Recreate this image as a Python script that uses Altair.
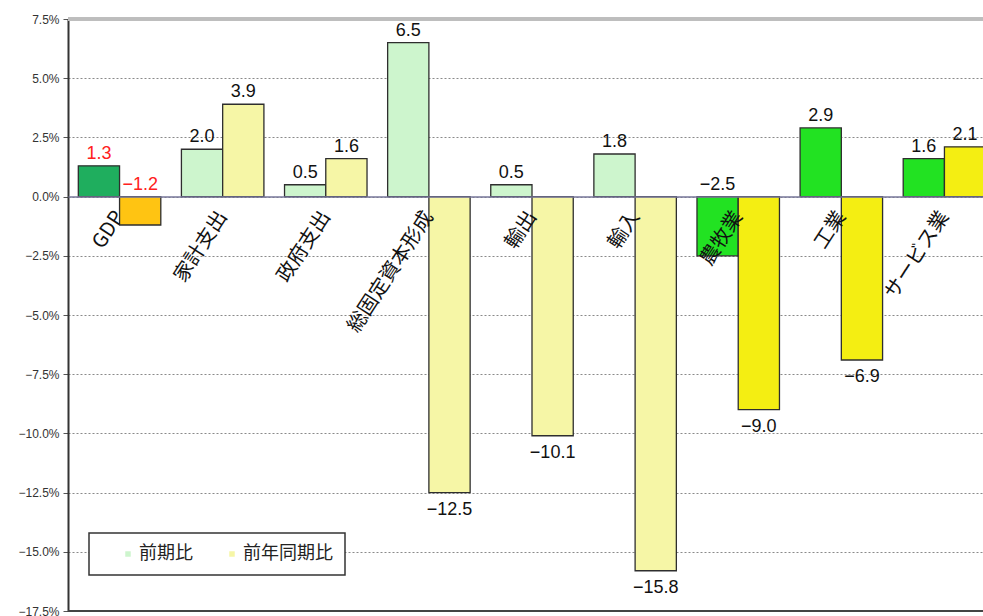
import altair as alt
import pandas as pd

# Quarter-on-quarter and year-on-year growth by component (%)
categories = ["GDP", "家計支出", "政府支出", "総固定資本形成", "輸出", "輸入", "農牧業", "工業", "サービス業"]
groups = ["総合", "需要", "需要", "需要", "需要", "需要", "産業", "産業", "産業"]
qoq = [1.3, 2.0, 0.5, 6.5, 0.5, 1.8, -2.5, 2.9, 1.6]
yoy = [-1.2, 3.9, 1.6, -12.5, -10.1, -15.8, -9.0, -6.9, 2.1]
series = ["前期比", "前年同期比"]
y_ticks = [7.5, 5.0, 2.5, 0.0, -2.5, -5.0, -7.5, -10.0, -12.5, -15.0, -17.5]

rows = []
for cat, grp, a, b in zip(categories, groups, qoq, yoy):
    rows.append({"category": cat, "group": grp, "series": series[0], "value": a})
    rows.append({"category": cat, "group": grp, "series": series[1], "value": b})
df = pd.DataFrame(rows)
df["key"] = df["series"] + "・" + df["group"]

key_domain = [
    "前期比・需要", "前年同期比・需要",
    "前期比・総合", "前年同期比・総合",
    "前期比・産業", "前年同期比・産業",
]
key_range = ["#cdf5cd", "#f6f6a6", "#1fae5e", "#ffc412", "#22e222", "#f4ee12"]

W, H = 915, 592
y_min, y_max = -17.5, 7.5
zero_px = (y_max - 0) / (y_max - y_min) * H

y_scale = alt.Scale(domain=[y_min, y_max], nice=False, zero=False)

base = alt.Chart(df).encode(
    x=alt.X(
        "category:N",
        sort=categories,
        scale=alt.Scale(paddingInner=0.2, paddingOuter=0.1, range=[0, 928]),
        axis=alt.Axis(
            title=None,
            orient="bottom",
            offset=-(H - zero_px),
            ticks=False,
            domainColor="#77779a",
            domainWidth=1.5,
            labelAngle=-57,
            labelAlign="right",
            labelBaseline="middle",
            labelPadding=16,
            labelFont="Noto Sans CJK JP",
            labelFontSize=20,
            labelColor="#111111",
            zindex=1,
        ),
    ),
    xOffset=alt.XOffset("series:N", sort=series),
)

y_axis = alt.Axis(
    title=None,
    values=y_ticks,
    labelExpr="format(datum.value, '.1f') + '%'",
    labelFont="Liberation Sans",
    labelFontSize=12,
    labelColor="#333333",
    labelPadding=4,
    tickSize=5,
    tickColor="#555555",
    domainColor="#333333",
    domainWidth=2,
    grid=True,
    gridDash=[2, 2],
    gridColor="#8a8a8a",
)

bars = base.mark_bar(stroke="#2e2e2e", strokeWidth=1.3).encode(
    y=alt.Y("value:Q", scale=y_scale, axis=y_axis),
    color=alt.Color(
        "key:N",
        scale=alt.Scale(domain=key_domain, range=key_range),
        legend=alt.Legend(
            title=None,
            values=key_domain[:2],
            labelExpr="split(datum.label, '・')[0]",
        ),
    ),
)

label_color = alt.condition("datum.group === '総合'", alt.value("#ff2020"), alt.value("#111111"))

above = (
    base.transform_filter("datum.value >= -3")
    .transform_calculate(ly="max(datum.value, 0)")
    .mark_text(baseline="bottom", dy=-3, fontSize=18, font="Liberation Sans")
    .encode(
        y=alt.Y("ly:Q", scale=y_scale),
        text=alt.Text("value:Q", format=".1f"),
        color=label_color,
    )
)

below = (
    base.transform_filter("datum.value < -3")
    .mark_text(baseline="top", dy=8, fontSize=18, font="Liberation Sans")
    .encode(
        y=alt.Y("value:Q", scale=y_scale),
        text=alt.Text("value:Q", format=".1f"),
        color=label_color,
    )
)

top_line = alt.Chart(df).mark_rule(color="#bdbdbd", strokeWidth=3).encode(y=alt.datum(y_max))
bottom_line = alt.Chart(df).mark_rule(color="#444444", strokeWidth=1.5).encode(y=alt.datum(y_min))

chart = (
    alt.layer(top_line, bars, above, below, bottom_line)
    .properties(
        width=W,
        height=H,
        autosize=alt.AutoSizeParams(type="none"),
        padding={"left": 68, "top": 19, "right": 0, "bottom": 5},
        background="white",
    )
    .configure_view(stroke=None)
    .configure_legend(
        orient="none",
        legendX=21,
        legendY=514,
        direction="horizontal",
        fillColor="white",
        strokeColor="#333333",
        strokeWidth=1.5,
        padding=12,
        labelFont="Noto Sans CJK JP",
        labelFontSize=18,
        labelColor="#222222",
        symbolType="square",
        symbolSize=30,
        symbolStrokeWidth=0,
        symbolOffset=18,
        labelOffset=2,
        columnPadding=12,
    )
)

chart.save("out.html", embed_options={"renderer": "svg", "actions": False})
